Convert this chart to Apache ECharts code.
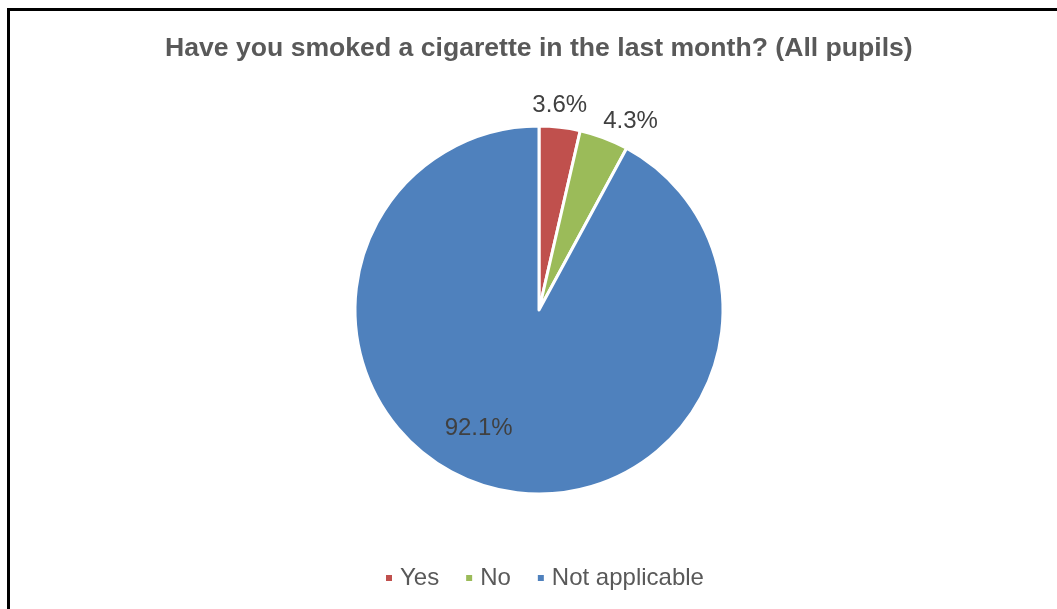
<!DOCTYPE html>
<html><head><meta charset="utf-8">
<script src="https://cdn.jsdelivr.net/npm/echarts@6/dist/echarts.min.js"></script>
<style>
html,body{margin:0;padding:0;background:#fff;overflow:hidden;}
#c{position:absolute;left:0;top:0;width:1057px;height:609px;}
#frame{position:absolute;left:7px;top:8px;width:1060px;height:620px;border:3px solid #000;box-sizing:border-box;pointer-events:none;}
</style></head>
<body>
<div id="c"></div>
<div id="frame"></div>
<script>
const titleText = "Have you smoked a cigarette in the last month? (All pupils)";
const categories = ["Yes", "No", "Not applicable"];
const values = [3.6, 4.3, 92.1];
const colors = ["#C0504D", "#9BBB59", "#4F81BD"];

const chart = echarts.init(document.getElementById('c'));
const labelOffsets = [[10, -110], [58, -100], [-37, 26]];
chart.setOption({
  animation: false,
  title: {
    text: titleText, left: 165, top: 35, padding: 0,
    textStyle: {fontFamily: 'Liberation Sans, Arial', fontSize: 26.6, fontWeight: 'bold', color: '#595959'}
  },
  legend: {
    bottom: 19, left: 384, padding: 0, icon: 'rect', itemWidth: 8, itemHeight: 8, itemGap: 25,
    textStyle: {fontFamily: 'Liberation Sans, Arial', fontSize: 24, color: '#595959', padding: [0, 0, 0, 2]},
    data: categories
  },
  series: [{
    type: 'pie', radius: 184, center: [539, 310], startAngle: 90, clockwise: true,
    avoidLabelOverlap: false,
    itemStyle: {borderColor: '#fff', borderWidth: 3},
    labelLine: {show: false},
    label: {position: 'inside', fontFamily: 'Liberation Sans, Arial', fontSize: 24, color: '#404040',
      formatter: p => p.value.toFixed(1) + '%'},
    data: categories.map((c, i) => ({
      name: c, value: values[i], itemStyle: {color: colors[i]},
      label: {offset: labelOffsets[i]}
    }))
  }]
});
</script>
</body></html>
